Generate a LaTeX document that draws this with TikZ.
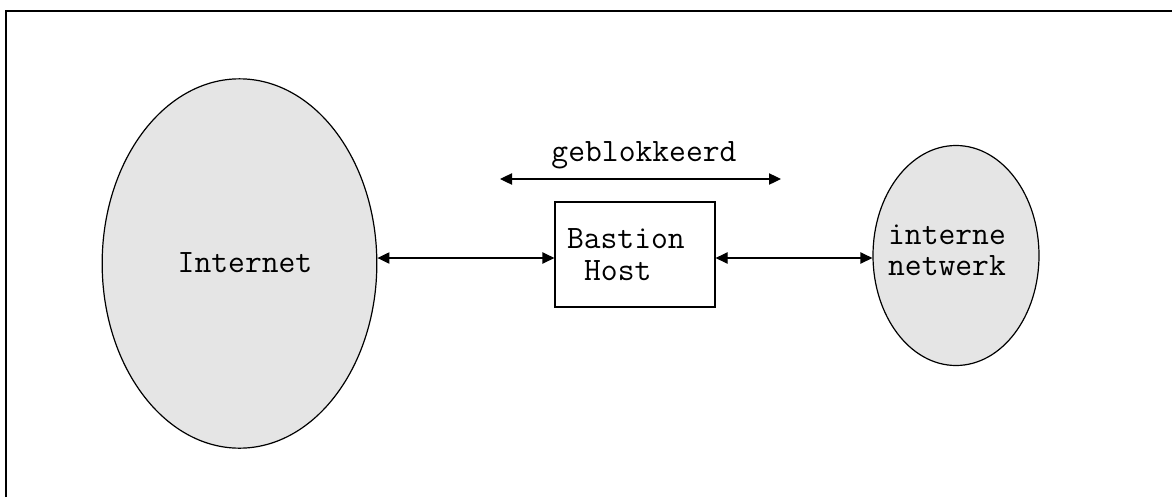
\documentclass[tikz,border=0pt]{standalone}
\usepackage{fontspec}
\usetikzlibrary{shapes.geometric,arrows.meta}
\definecolor{netgray}{RGB}{229,229,229}
\tikzset{
  mono/.style={font=\ttfamily\fontsize{24.5}{23.5}\selectfont\addfontfeatures{FakeBold=2}},
  net/.style={draw, ellipse, fill=netgray, line width=0.9pt, inner sep=0pt},
  link/.style={{Triangle[length=9pt,width=8.5pt]}-{Triangle[length=9pt,width=8.5pt]}, line width=0.9pt}
}
\begin{document}
\begin{tikzpicture}[x=0.75pt,y=-0.75pt]
  \useasboundingbox (0,0) rectangle (1172,497);
  % open frame
  \draw[line width=1.4pt] (6,497) -- (6,11) -- (1172,11);
  \node[net, minimum width=206pt, minimum height=277pt] (inet) at (239.5,263.5) {};
  \node[mono] (inetlabel) at (245,263) {Internet};
  \node[draw, line width=0.9pt, mono, align=left, inner xsep=9pt, text width=102pt,
        minimum height=78.75pt] (host) at (635,254.5) {Bastion\\\hspace*{0.525em}Host};
  \node[net, minimum width=124.5pt, minimum height=165pt] (lan) at (956,255.5) {};
  \node[mono, align=left] (lanlabel) at (947,250) {interne\\netwerk};
  \node[mono] (blok) at (644,155) {geblokkeerd};
  \coordinate (blokl) at (500,179);
  \coordinate (blokr) at (781,179);
  \draw[link] (blokl) -- (blokr);
  \draw[link] (inet.east |- 0,258) -- (host.west |- 0,258);
  \draw[link] (host.east |- 0,258) -- (lan.west |- 0,258);
\end{tikzpicture}
\end{document}
